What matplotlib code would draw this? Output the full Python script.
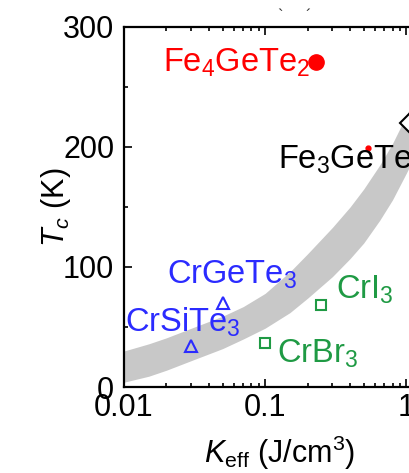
import matplotlib
matplotlib.use("Agg")
import matplotlib.pyplot as plt
from matplotlib.ticker import MultipleLocator, LogLocator, NullFormatter

# Data
band_k = [0.01, 0.015, 0.02, 0.03, 0.05, 0.07, 0.1, 0.15, 0.2, 0.3,
          0.4, 0.5, 0.65, 0.8, 1.0, 1.3, 1.6]
band_hi = [30, 36, 41, 49, 59, 67, 78, 96, 111, 133,
           150, 165, 185, 203, 226, 254, 282]
band_lo = [4, 9, 14, 22, 32, 40, 49, 62, 74, 92,
           107, 120, 139, 156, 178, 205, 232]

fe4_k, fe4_tc = [0.23], [271]
fe3_k, fe3_tc = [0.537], [199]
diam_k, diam_tc = [1.07], [220]
tri_k = [0.050, 0.030]      # CrGeTe3, CrSiTe3
tri_tc = [70, 34]
sq_k = [0.249, 0.1]         # CrI3, CrBr3
sq_tc = [68, 37]

y_ticks = [0, 100, 200, 300]
x_ticks = [0.01, 0.1, 1]
x_ticklabels = ["0.01", "0.1", "1"]

RED = "#ff0000"
BLUE = "#2b2bff"
GREEN = "#1f9a44"


def main() -> int:
    plt.rcParams["font.family"] = ["Liberation Sans", "DejaVu Sans"]
    plt.rcParams["mathtext.fontset"] = "custom"
    plt.rcParams["mathtext.rm"] = "Liberation Sans"
    plt.rcParams["mathtext.it"] = "Liberation Sans:italic"

    fig = plt.figure(figsize=(4.09, 4.73), dpi=100)
    # axes run past the right edge: the reference is a cropped panel
    ax = fig.add_axes([124 / 409, 86 / 473, 311 / 409, 360 / 473])

    ax.fill_between(band_k, band_lo, band_hi, color="#c8c8c8", lw=0, zorder=1)

    ax.plot(fe4_k, fe4_tc, "o", color=RED, ms=11, zorder=3)
    ax.plot(fe3_k, fe3_tc, "o", color=RED, ms=3.5, zorder=3)
    ax.plot(diam_k, diam_tc, "D", mfc="white", mec="black", mew=1.5, ms=10,
            zorder=3, clip_on=False)
    ax.plot(tri_k, tri_tc, "^", mfc="none", mec=BLUE, mew=1.5, ms=9, zorder=3)
    ax.plot(sq_k, sq_tc, "s", mfc="none", mec=GREEN, mew=1.5, ms=7.5, zorder=3)

    fs = 23.5
    ax.text(0.0189, 263, "Fe$_4$GeTe$_2$", color=RED, fontsize=fs, va="baseline")
    ax.text(0.124, 182, "Fe$_3$GeTe$_2$", color="black", fontsize=fs,
            va="baseline", clip_on=False)
    ax.text(0.0202, 86, "CrGeTe$_3$", color=BLUE, fontsize=fs, va="baseline")
    ax.text(0.0102, 46, "CrSiTe$_3$", color=BLUE, fontsize=fs, va="baseline")
    ax.text(0.319, 74, "CrI$_3$", color=GREEN, fontsize=fs, va="baseline")
    ax.text(0.1216, 20, "CrBr$_3$", color=GREEN, fontsize=fs, va="baseline")

    # tips of a cropped label above the panel
    fig.text(280 / 409, 1 - 9 / 473, "`", fontsize=12, ha="center",
             va="top", color="#333333")
    fig.text(308 / 409, 1 - 9 / 473, "\u00b4", fontsize=12, ha="center",
             va="top", color="#333333")

    ax.set_xscale("log")
    ax.set_xlim(0.01, 1.6)
    ax.set_ylim(0, 300)
    ax.set_xticks(x_ticks)
    ax.set_xticklabels(x_ticklabels)
    ax.xaxis.set_minor_locator(LogLocator(base=10, subs=range(2, 10)))
    ax.xaxis.set_minor_formatter(NullFormatter())
    ax.set_yticks(y_ticks)
    ax.yaxis.set_minor_locator(MultipleLocator(50))

    ax.tick_params(which="both", direction="in", top=True, right=True,
                   width=1.2, labelsize=22)
    ax.tick_params(which="major", length=6)
    ax.tick_params(which="minor", length=3)
    ax.tick_params(axis="x", pad=4)
    ax.tick_params(axis="y", pad=7)
    for sp in ax.spines.values():
        sp.set_linewidth(1.6)

    ax.set_xlabel(r"$K_{\rm eff}$ (J/cm$^3$)", fontsize=22)
    ax.set_ylabel("$T_c$ (K)", fontsize=22)
    ax.xaxis.set_label_coords(0.5, -0.13)
    ax.yaxis.set_label_coords(-0.165, 0.5)

    fig.savefig("out.png", dpi=100)
    return 0


if __name__ == "__main__":
    main()
